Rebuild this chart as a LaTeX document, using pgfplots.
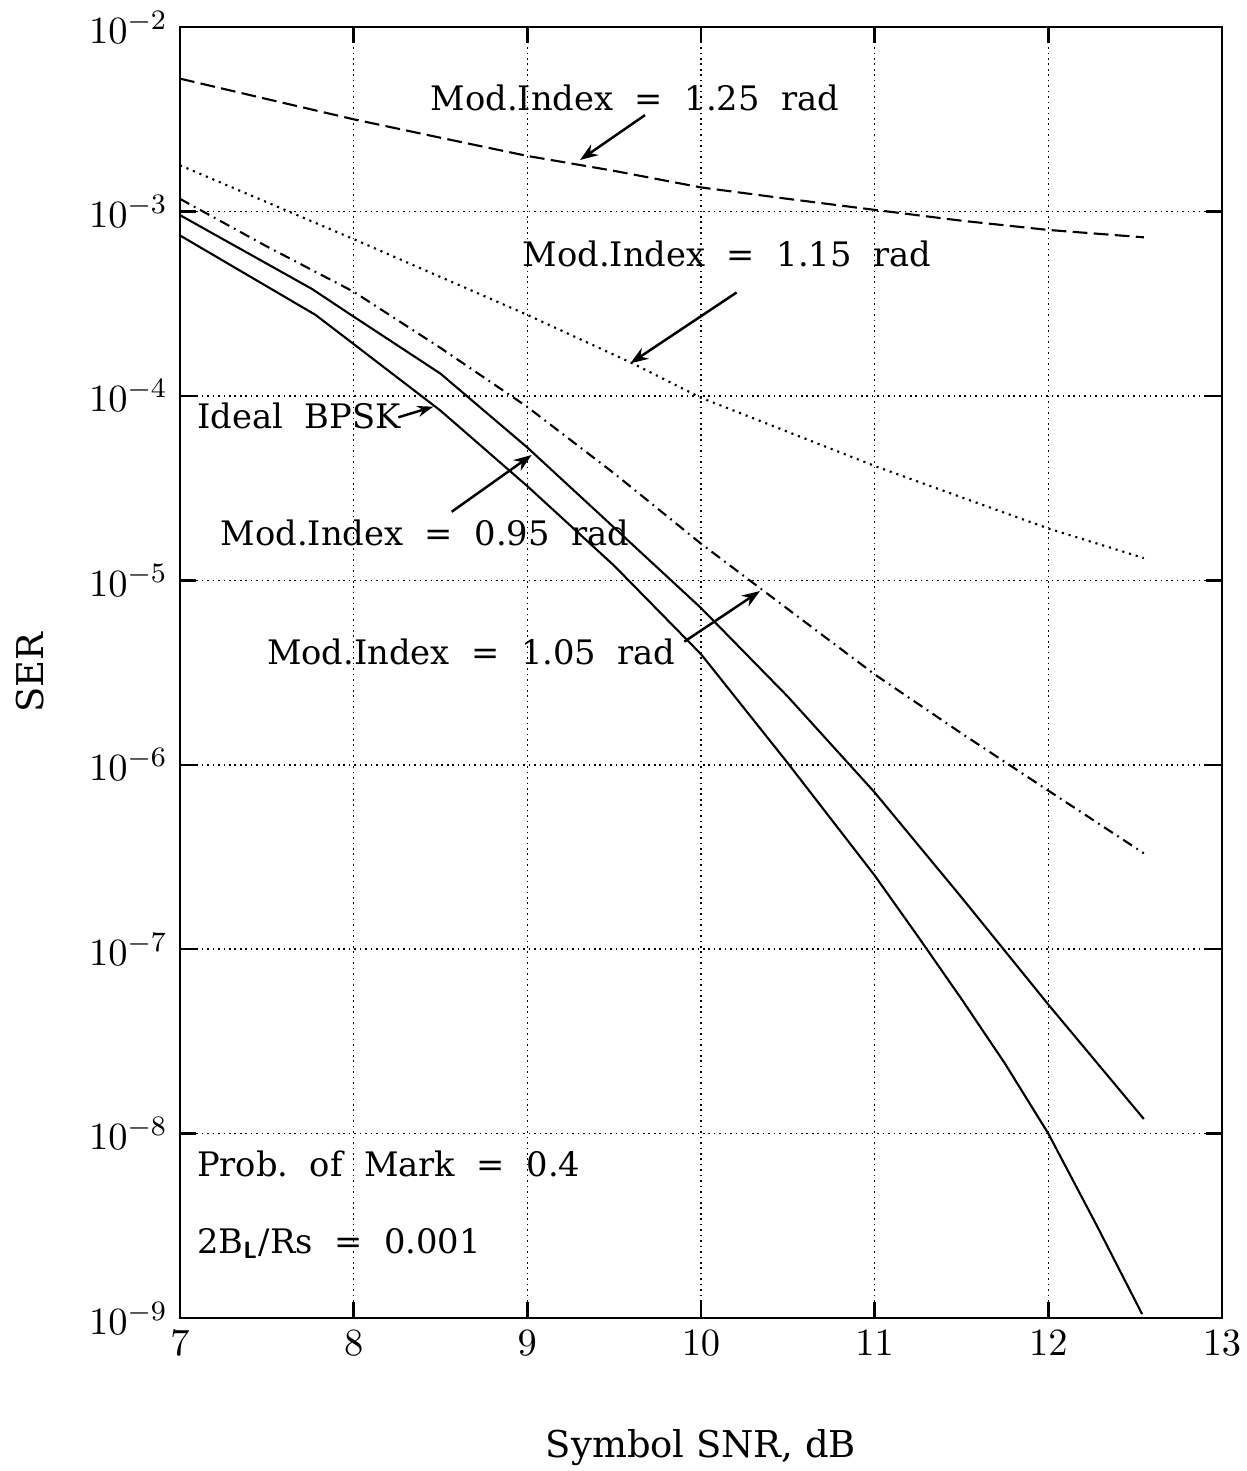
\documentclass[border=0pt]{standalone}
\usepackage{fontspec}
\setmainfont{DejaVu Serif}
\usepackage{pgfplots}
\pgfplotsset{compat=1.18}
\usetikzlibrary{arrows.meta}
\newcommand{\lbl}{\fontsize{9.6}{11.5}\selectfont}
\begin{document}
\begin{tikzpicture}
\begin{axis}[
  scale only axis, width=104.2mm, height=129.1mm,
  xmin=7, xmax=13, ymin=1e-9, ymax=1e-2, ymode=log,
  xtick={7,8,9,10,11,12,13},
  ytick={1e-9,1e-8,1e-7,1e-6,1e-5,1e-4,1e-3,1e-2},
  yminorticks=false,
  grid=major,
  grid style={black, line width=0.45pt, dash pattern=on 0.45pt off 1.1pt},
  axis line style={black, line width=0.7pt},
  tick style={black, line width=0.7pt},
  major tick length=1.6mm,
  tick label style={font=\fontsize{11}{13}\selectfont},
  xlabel={Symbol SNR, dB}, ylabel={SER},
  label style={font=\fontsize{10.5}{12.5}\selectfont},
  xlabel style={at={(axis description cs:0.5,-0.1007)}, anchor=center},
  ylabel style={at={(axis description cs:-0.144,0.5)}, anchor=center},
  clip=false,
  every axis plot/.append style={black, line width=0.6pt, line join=round},
]
% Mod.Index = 1.25 rad (dashed)
\addplot[dash pattern=on 4.2pt off 1.8pt] coordinates {
 (7,5.25e-3) (7.5,4.07e-3) (8,3.16e-3) (8.5,2.51e-3) (9,2.00e-3) (9.5,1.66e-3)
 (10,1.35e-3) (10.5,1.17e-3) (11,1.02e-3) (11.5,8.91e-4) (12,7.94e-4) (12.55,7.24e-4)};
% Mod.Index = 1.15 rad (dotted)
\addplot[dash pattern=on 0.6pt off 1.4pt] coordinates {
 (7,1.78e-3) (8,7.08e-4) (9,2.75e-4) (9.6,1.51e-4) (10,9.77e-5) (11,4.17e-5)
 (11.5,2.82e-5) (12,1.91e-5) (12.55,1.32e-5)};
% Mod.Index = 1.05 rad (dash-dot)
\addplot[dash pattern=on 3pt off 1.5pt on 0.5pt off 1.5pt] coordinates {
 (7,1.17e-3) (7.5,6.46e-4) (8,3.67e-4) (8.5,1.82e-4) (9,8.71e-5) (9.5,3.80e-5)
 (10,1.58e-5) (10.28,1.0e-5) (11,3.09e-6) (11.5,1.48e-6) (12,7.24e-7) (12.55,3.31e-7)};
% Mod.Index = 0.95 rad (solid)
\addplot[solid] coordinates {
 (7,9.55e-4) (7.76,3.80e-4) (8,2.69e-4) (8.5,1.32e-4) (9,5.25e-5) (9.5,1.93e-5)
 (10,7.08e-6) (10.5,2.34e-6) (11,7.08e-7) (11.5,1.91e-7) (12,5.01e-8) (12.55,1.20e-8)};
% Ideal BPSK (solid)
\addplot[solid] coordinates {
 (7,7.41e-4) (7.78,2.75e-4) (8,1.91e-4) (8.5,8.32e-5) (9,3.24e-5) (9.5,1.20e-5)
 (10,3.98e-6) (10.5,1.02e-6) (11,2.51e-7) (11.25,1.17e-7) (11.5,5.37e-8) (11.75,2.40e-8) (12,1.0e-8)
 (12.28,3.16e-9) (12.54,1.05e-9)};

% annotations
\node[anchor=base west, inner sep=0pt, font=\lbl] at (rel axis cs:0.2399,0.9357) {Mod.Index\ \ =\ \ 1.25\ \ rad};
\draw[-{Stealth[length=1.8mm,width=1.3mm]}, line width=0.7pt] (rel axis cs:0.4463,0.9318) -- (rel axis cs:0.3839,0.8970);
\node[anchor=base west, inner sep=0pt, font=\lbl] at (rel axis cs:0.3282,0.8142) {Mod.Index\ \ =\ \ 1.15\ \ rad};
\draw[-{Stealth[length=1.8mm,width=1.3mm]}, line width=0.7pt] (rel axis cs:0.5342,0.7944) -- (rel axis cs:0.4322,0.7395);
\node[anchor=base west, inner sep=0pt, font=\lbl] at (rel axis cs:0.016,0.6892) {Ideal\ \ BPSK};
\draw[-{Stealth[length=1.6mm,width=1.1mm]}, line width=0.7pt] (rel axis cs:0.2095,0.6977) -- (rel axis cs:0.2431,0.7059);
\node[anchor=base west, inner sep=0pt, font=\lbl] at (rel axis cs:0.0384,0.5982) {Mod.Index\ \ =\ \ 0.95\ \ rad};
\draw[-{Stealth[length=1.8mm,width=1.3mm]}, line width=0.7pt] (rel axis cs:0.2607,0.6245) -- (rel axis cs:0.3375,0.6685);
\node[anchor=base west, inner sep=0pt, font=\lbl] at (rel axis cs:0.0829,0.5064) {Mod.Index\ \ =\ \ 1.05\ \ rad};
\draw[-{Stealth[length=1.8mm,width=1.3mm]}, line width=0.7pt] (rel axis cs:0.4840,0.5239) -- (rel axis cs:0.5566,0.5631);
\node[anchor=base west, inner sep=0pt, font=\lbl] at (rel axis cs:0.0157,0.1094) {Prob.\ \ of\ \ Mark\ \ =\ \ 0.4};
\node[anchor=base west, inner sep=0pt, font=\lbl] at (rel axis cs:0.0157,0.0501) {2B\textsubscript{\sffamily\bfseries L}/Rs\ \ =\ \ 0.001};
\end{axis}
\pgfresetboundingbox
\path (current axis.south west) ++(-18mm,-15.3mm) rectangle ++(124.7mm,147.1mm);
\end{tikzpicture}
\end{document}
